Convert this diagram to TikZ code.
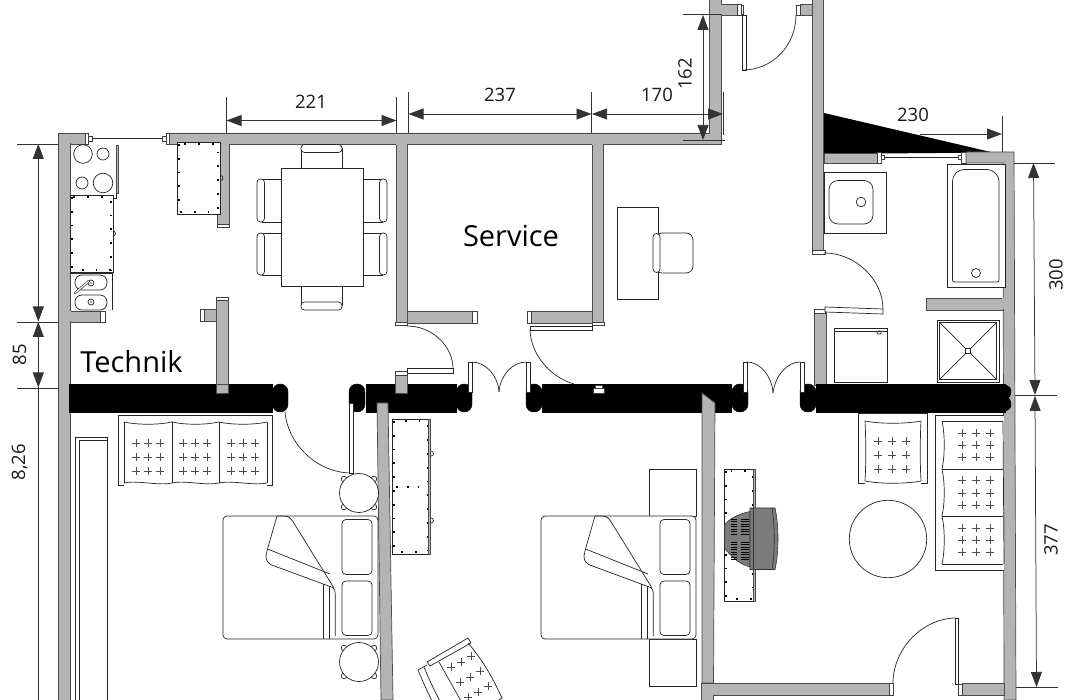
\documentclass[tikz,border=0pt]{standalone}
\usepackage{fontspec}
\setmainfont{Open Sans}
\usetikzlibrary{arrows.meta}
\definecolor{wallgray}{HTML}{B4B4B4}
\definecolor{walledge}{HTML}{4A4A4A}
\definecolor{tvgray}{HTML}{7C7C7C}
\tikzset{
  wall/.style={fill=wallgray,draw=walledge,line width=.7pt},
  solidb/.style={fill=black,draw=black,line width=.5pt},
  jamb/.style={fill=black,draw=black,rounded corners=7.6pt},
  furn/.style={draw=black!85,line width=.7pt,fill=white},
  hair/.style={draw=black!85,line width=.7pt},
  leaf/.style={draw=black!85,line width=.7pt,fill=white},
  jcap/.style={draw=black!75,line width=.6pt,fill=white},
  dimline/.style={draw=black!80,line width=.75pt},
  dimarrow/.style={draw=black!80,line width=.75pt,{Triangle[length=15pt,width=11pt]}-{Triangle[length=15pt,width=11pt]}},
  dimend/.style={draw=black!80,line width=.75pt,-{Triangle[length=15pt,width=11pt]}},
  dimtext/.style={font=\fontsize{18.5}{20}\selectfont,inner sep=0pt,text=black!90},
  roomtext/.style={font=\fontsize{29}{32}\selectfont,inner sep=0pt,text=black},
  dotrim/.style={draw=black,line width=1.5pt,dash pattern=on 1.8pt off 12pt},
  stud/.style={draw=black!70,line width=.75pt}
}
\newcommand{\dotbox}[4]{%
  \draw[furn] (#1,#2) rectangle (#3,#4);
  \draw[dotrim] (#1+2,#2+2) rectangle (#3-2,#4-2);}
\newcommand{\studat}[2]{%
  \draw[stud] (#1-4,#2) -- (#1+4,#2) (#1,#2-4) -- (#1,#2+4);}
\newcommand{\nitetable}[2]{%
  \foreach \ex/\ey in {-15/-14,15/-14,-15/14,15/14}
    {\draw[hair] (#1+\ex,#2+\ey) circle[radius=2.8];}
  \draw[furn] (#1,#2) circle[radius=19.5];}
\newcommand{\bedat}[1]{%
  \begin{scope}[xshift=#1pt]
  \draw[furn,rounded corners=4pt] (223,516) rectangle (378,639);
  \draw[hair,rounded corners=4pt] (342,519.5) rectangle (372,574.5);
  \draw[hair,rounded corners=4pt] (342,581) rectangle (372,635.5);
  \draw[hair,rounded corners=2pt] (277,516) -- (267.5,549) -- (265.5,558) -- (269,564) -- (334,588) -- (335.3,592) -- (335.3,636);
  \draw[hair,rounded corners=3pt] (277,516) -- (287,516) -- (291,518.5) -- (334,588);
  \draw[hair] (267.5,549) -- (330,574);
  \draw[hair] (323,584) -- (323,639) (329,586) -- (329,639);
  \end{scope}}
\begin{document}
\begin{tikzpicture}[x=1pt,y=-1pt]
\useasboundingbox (0,0) rectangle (1080,700);
\clip (0,0) rectangle (1080,700);
\fill[white] (0,0) rectangle (1080,700);

% black triangle
\fill[black] (824,113) -- (993,152.5) -- (824,154) -- cycle;

% ---- long walls
\draw[wall] (58,133) -- (70,133) -- (70,700) -- (58,700) -- cycle;
\draw[wall] (70,133) rectangle (85,144);
\fill[wallgray] (68,133.6) rectangle (72,143.4);
\draw[jcap] (85,133.5) rectangle (88,144);
\draw[jcap] (88,136) rectangle (92,141);
\draw[hair] (92,138.5) -- (162,138.5);
\draw[jcap] (162,136) rectangle (166,141);
\draw[jcap] (166,133.5) rectangle (169,144);
\draw[wall] (169,133) -- (709,133) -- (709,-2) -- (721,-2) -- (721,144) -- (169,144) -- cycle;
\draw[wall] (721,4.5) rectangle (737,15);
\fill[wallgray] (720,5) rectangle (722,14.5);
\draw[jcap] (737,4.5) rectangle (741,15);
\draw[jcap] (741,5) rectangle (743,14);
\draw[wall] (800,4.5) rectangle (812,15);
\fill[wallgray] (811,5) rectangle (813,14.5);
\draw[jcap] (796,5) rectangle (800,15);

\draw[wall] (812,-2) rectangle (823.5,250);
\draw[jcap] (812,250) rectangle (825,254);
\draw[wall] (814.5,311) rectangle (826,385);
\draw[jcap] (814,309) rectangle (825,313);
% kitchen partition
\draw[wall] (217,144) rectangle (229,224);
\draw[jcap] (217,224) rectangle (229,227);
\draw[wall] (216,300) rectangle (228,393);
\draw[jcap] (216,297) rectangle (228,300);
\draw[wall] (204,309) rectangle (216,321);
\draw[jcap] (200,309) rectangle (204,321);
\draw[wall] (70,311) rectangle (100,322);
\fill[wallgray] (69,311.5) rectangle (71,321.5);
\draw[jcap] (100,311) rectangle (105,322);
% service
\draw[wall] (396,144) rectangle (407,322);
\draw[jcap] (395.5,322) rectangle (407.5,325.5);
\draw[wall] (592,144) rectangle (603,322);
\draw[jcap] (592,322) rectangle (604,325.5);
\fill[wallgray] (396.4,143) rectangle (406.6,145);
\fill[wallgray] (592.4,143) rectangle (602.6,145);
\fill[wallgray] (217.4,143) rectangle (228.6,145);
\draw[wall] (407,311) rectangle (472,323);
\draw[jcap] (472,311) rectangle (477,323);
\draw[wall] (531,311) rectangle (592,323);
\draw[jcap] (527,311) rectangle (531,323);
% bath walls
\draw[wall] (824,153) rectangle (877,163);
\draw[jcap] (877,152) rectangle (881,163);
\draw[jcap] (881,155) rectangle (884,159);
\draw[hair] (884,157) -- (958,157);
\draw[jcap] (958,155) rectangle (961,159);
\draw[jcap] (961,152) rectangle (966,163);
\draw[wall] (966,152) -- (1014,152) -- (1016,700) -- (1004,700) -- (1003,163) -- (966,163) -- cycle;
\draw[wall] (926,298) rectangle (1003,310);
\fill[wallgray] (1002,298.5) rectangle (1004,309.5);

% ---- black band
\draw[solidb] (69.5,384) rectangle (272,412);
\draw[jamb] (272.5,384) rectangle (288,412);
\draw[jamb] (349,384) rectangle (365,412);
\draw[solidb] (366,384) rectangle (456,412);
\draw[jamb] (456.5,384) rectangle (472,412);
\draw[jamb] (526,384) rectangle (542,412);
\draw[solidb] (542,384) rectangle (731,412);
\draw[jamb] (732,384) rectangle (748,412);
\draw[jamb] (800,384) rectangle (816,412);
\draw[solidb] (816,384) rectangle (1005,412);
\fill[black] (1003,384) .. controls (1014,386) and (1012,394) .. (1009,398) .. controls (1012,402) and (1014,410) .. (1003,412) -- cycle;
% partitions over the band
\draw[wall] (216,384) rectangle (228,393);
\draw[wall] (395,375) rectangle (407,393);
\draw[jcap] (395,371.5) rectangle (407,375);
\draw[jcap] (593,388) rectangle (604,393);
\draw[jcap] (595,385) rectangle (602,388);
\draw[wall] (377,403) -- (388,403) -- (393,700) -- (381,700) -- cycle;
\draw[wall] (702,393) -- (715,403) -- (713.5,683) -- (702,683) -- cycle;
\draw[wall] (701,683) -- (889,683) -- (889,695) -- (713,695) -- (713,700) -- (701,700) -- cycle;
\draw[jcap] (889,683.5) rectangle (893,695);
\draw[wall] (962,683) -- (1004,683) -- (1004,695) -- (962,695) -- cycle;
\draw[jcap] (958,684) rectangle (962,695);

% ---- dimension lines
\coordinate (t221a) at (226,97); \coordinate (t221b) at (226,133);
\coordinate (t221c) at (396.5,97); \coordinate (t221d) at (396.5,133);
\coordinate (t237a) at (408,92); \coordinate (t237b) at (408,133);
\coordinate (t237c) at (591.5,92); \coordinate (t237d) at (591.5,133);
\coordinate (t170a) at (723,92); \coordinate (t170b) at (723,135);
\draw[dimline] (t221a)--(t221b) (t221c)--(t221d) (t237a)--(t237b) (t237c)--(t237d) (t170a)--(t170b);
\draw[dimarrow] (226.5,120.5) -- (396.5,120.5);
\draw[dimarrow] (408.5,114) -- (591.5,114);
\draw[dimarrow] (592,114) -- (723,114);
\draw[dimarrow] (703,15) -- (703,140);
\draw[dimline] (683,14.5) -- (721,14.5) (683,140) -- (725,140);
\draw[dimend] (920,134) -- (1002,134);
\draw[dimline] (1002,116) -- (1002,152);
\draw[dimarrow] (1033.5,163) -- (1035,395);
\draw[dimline] (1014,163) -- (1055,163) (1015,395) -- (1057,395);
\draw[dimarrow] (1035,396) -- (1036.5,687);
\draw[dimline] (1016,687) -- (1058,687);
\draw[dimarrow] (38.3,144) -- (38.3,321.5);
\draw[dimarrow] (38.3,322) -- (38.3,387.5);
\draw[dimline] (38.3,387.5) -- (38.3,700);
\draw[dimline] (17,144.3) -- (58,144.3) (17,322) -- (58,322) (17,388) -- (58,388);

% ---- doors
\draw[leaf] (407,368.5) rectangle (453,373);
\draw[hair] (407,326) .. controls (433,326) and (453,347) .. (453,368.5);
\draw[leaf] (530,326.5) rectangle (592,330);
\draw[hair] (530,330) .. controls (531,356) and (552,378) .. (574,384);
\draw[leaf] (468,362) rectangle (472,392);
\draw[leaf] (526,362) rectangle (530,392);
\draw[hair] (472,362) .. controls (486,362) and (498,376) .. (499,392);
\draw[hair] (526,362) .. controls (512,362) and (500,376) .. (499,392);
\draw[leaf] (743,362) rectangle (747,392);
\draw[leaf] (800,362) rectangle (804,392);
\draw[hair] (747,362) .. controls (760,362) and (772,376) .. (773,393);
\draw[hair] (800,362) .. controls (787,362) and (775,376) .. (773,393);
\draw[leaf] (742,15) rectangle (746,70);
\draw[hair] (743,70) .. controls (772,70) and (796,46) .. (796,15);
\draw[hair] (824,253) .. controls (856,253) and (883,280) .. (883,309);
\draw[leaf] (825,307) -- (883,309) -- (883,314) -- (825,312) -- cycle;
\draw[leaf] (349,403) rectangle (353.5,473);
\draw[hair] (285,412) .. controls (288,444) and (316,472) .. (350,473);
\draw[leaf] (955,618) rectangle (958.5,684);
\draw[hair] (955,618) .. controls (921,619) and (893,650) .. (893,683);

% ---- kitchen
\draw[hair] (83,154) circle[radius=9.3];
\draw[hair] (103,154) circle[radius=6];
\draw[hair] (82,183) circle[radius=6];
\draw[hair] (103,183) circle[radius=9.8];
\draw[fill=wallgray,draw=black!70,line width=.5pt] (116,145) rectangle (118.5,193);
\draw[hair] (116,193) -- (116,198) -- (113,198);
\dotbox{70}{195}{113}{272}
\draw[hair] (113,231) arc[start angle=-90,end angle=90,radius=2.5];
\draw[hair] (70,273) -- (112,273) (112,273) -- (112,310);
\draw[hair,rounded corners=7pt] (75,275) rectangle (107,290);
\draw[hair,rounded corners=7pt] (75,295) rectangle (107,310);
\draw[hair] (91,283) circle[radius=3];
\draw[hair] (91,302) circle[radius=3];
\fill[black!35] (91,283) circle[radius=1.3] (91,302) circle[radius=1.3];
\draw[line width=2.4pt,black!80,line cap=round] (75,293) -- (89,281);
\draw[line width=1.1pt,white,line cap=round] (75,293) -- (89,281);
\dotbox{177}{142}{220}{214}
\draw[hair] (220.5,175.5) arc[start angle=-90,end angle=90,radius=2.5];

% ---- dining
\foreach \a/\b in {179/222,233/275}{
  \draw[furn] (281,\a) -- (262,\a) -- (262,\b) -- (281,\b);
  \draw[furn,rounded corners=3.5pt] (257,\a) rectangle (264.5,\b);
  \draw[furn] (363,\a) -- (382,\a) -- (382,\b) -- (363,\b);
  \draw[furn,rounded corners=3.5pt] (379.5,\a) rectangle (387,\b);
}
\draw[furn] (301,168) -- (301,148) -- (342,148) -- (342,168);
\draw[furn,rounded corners=3.5pt] (301,144.5) rectangle (342,152.5);
\draw[furn] (301,286) -- (301,305) -- (342,305) -- (342,286);
\draw[furn,rounded corners=3.5pt] (301,302) rectangle (342,310);
\draw[furn] (281,168) rectangle (363,286);

% ---- desk
\draw[furn] (617,207) rectangle (658,299);
\draw[furn,rounded corners=7pt] (655,233) -- (693,233) -- (693,273) -- (655,273) -- cycle;
\draw[furn,rounded corners=3.5pt] (653,233.5) rectangle (660,272.5);

% ---- bathroom
\draw[furn] (824,172) rectangle (886,233);
\draw[hair,rounded corners=9pt] (829,180.5) rectangle (873,224);
\draw[hair] (861,202) circle[radius=4.8];
\draw[furn] (947,164) rectangle (1005,287);
\draw[hair,rounded corners=2pt] (952.5,282) -- (952.5,183) .. controls (952.5,175) and (958,169.5) .. (966,169.5) -- (985,169.5) .. controls (993,169.5) and (999,175) .. (999,183) -- (999,282) -- cycle;
\draw[hair] (976,273) circle[radius=4.5];
\draw[furn] (937,320) rectangle (999,382);
\draw[hair] (939.5,322.5) rectangle (996.5,379.5);
\draw[hair] (939.5,322.5) -- (996.5,379.5) (996.5,322.5) -- (939.5,379.5);
\draw[furn] (965.5,348.5) rectangle (970.5,353.5);
\draw[furn] (834,328) rectangle (887,382);
\draw[hair] (834,331) -- (887,331);
\draw[hair,rounded corners=1pt] (877,331) rectangle (881,334);

% ---- bedroom 1
\draw[furn] (75,437) rectangle (107,710);
\draw[hair] (79,710) -- (79,440) -- (107,440);
\draw[furn] (124,485) -- (118,485) -- (118,415) -- (272,415) -- (272,485) -- (267,485);
\foreach \p/\q in {124/172,172/219,219/267}{
  \draw[hair] (\p,422) .. controls (\p+14,425) and (\q-14,425) .. (\q,422);
  \draw[hair] (\p,483) .. controls (\p+14,480) and (\q-14,486) .. (\q,483);
  \draw[hair] (\p,422) -- (\p,483) (\q,422) -- (\q,483);
}
\foreach \sx in {136,148,160,183,195,207,231,243,255}{
  \foreach \sy in {443,457,471}{
    \studat{\sx}{\sy}
  }
}
\nitetable{359}{493}
\nitetable{359}{662}
\bedat{0}
\dotbox{392}{419}{430}{554}
\draw[fill=wallgray,draw=black!70,line width=.4pt] (428,419) rectangle (430,554);
\draw[hair] (431,451) arc[start angle=-90,end angle=90,radius=2.5];
\draw[hair] (431,518) arc[start angle=-90,end angle=90,radius=2.5];
\draw[dotrim,dash pattern=on 1.8pt off 9pt] (396,487) -- (425,487);
% armchair
\draw[furn] (427,662) -- (468,638) -- (471,643) -- (430,666) -- cycle;
\draw[hair] (424,667) .. controls (430,682) and (437,696) .. (445,710);
\draw[hair] (418,670) -- (427,665);
\draw[hair] (418,670) .. controls (424,684) and (429,696) .. (437,710);
\draw[hair] (439,662) -- (465,708);
\draw[hair] (468,643) .. controls (481,658) and (492,676) .. (500,694);
\draw[hair] (502,698) -- (487,708) (500,694) -- (502,698);
\foreach \sx/\sy in {451/667,461/662,471/656,460/682,470/677,480/671,468/697,478/692,488/686}{
  \studat{\sx}{\sy}
}

% ---- bedroom 2
\draw[furn] (649,469) rectangle (696,516);
\draw[furn] (649,639) rectangle (696,686);
\bedat{318}
\dotbox{724}{469}{755}{601}
\draw[fill=wallgray,draw=black!70,line width=.4pt] (753,469) rectangle (755,601);
% television
\draw[draw=black!80,line width=.6pt,fill=tvgray] (750,511.5) .. controls (738,514) and (729,519) .. (724.5,525) -- (724.5,548) .. controls (729,554) and (738,564) .. (750,567) -- cycle;
\foreach \hy in {519,521.5,524,526.5,529,531.5,534,542,544.5,547,549.5,552,554.5,557,559.5}{
  \draw[black,line width=.9pt] (731,\hy) -- (737,\hy) (741,\hy) -- (749,\hy);
}
\draw[draw=black!80,line width=.6pt,fill=tvgray] (750,508) -- (775,508) .. controls (779,525) and (779,552) .. (775,569.5) -- (750,569.5) -- cycle;
\draw[black!80,line width=.6pt] (772,508) .. controls (775,525) and (775,552) .. (772,569.5);
\draw[black!80,line width=.6pt] (753,508) -- (753,569.5);

% ---- living corner
\draw[furn] (865,483) -- (858,483) -- (858,413.5) -- (927,413.5) -- (927,483) -- (921,483);
\draw[hair] (865,421) .. controls (880,424) and (906,424) .. (921,421);
\draw[hair] (865,421) .. controls (866,440) and (866,465) .. (865,481);
\draw[hair] (921,421) .. controls (920,440) and (920,465) .. (921,481);
\draw[hair] (865,481) .. controls (880,484) and (906,484) .. (921,481);
\foreach \sx in {878,892,906}{
  \foreach \sy in {441,455,469}{
    \studat{\sx}{\sy}
  }
}
\draw[furn] (888,539) circle[radius=38.7];
\draw[furn] (1004,415) -- (935,415) -- (935,570) -- (1004,570);
\foreach \p/\q in {421/469,469/516,516/564}{
  \draw[hair] (942,\p) .. controls (945,\p+14) and (945,\q-14) .. (942,\q);
  \draw[hair] (942,\q) -- (1003,\q) (942,\p) -- (1003,\p);
}
\draw[hair] (1003,421) -- (1004,564);
\foreach \sx in {962,976,990}{
  \foreach \sy in {433,445,457,480,493,505,528,540,552}{
    \studat{\sx}{\sy}
  }
}

% ---- labels
\node[dimtext] (l221) at (311,102) {221};
\node[dimtext] (l237) at (500,95) {237};
\node[dimtext] (l170) at (657,95) {170};
\node[dimtext,rotate=90] (l162) at (685,74) {162};
\node[dimtext] (l230) at (913,115) {230};
\node[dimtext,rotate=90] (l300) at (1056,275) {300};
\node[dimtext,rotate=90] (l377) at (1051,540) {377};
\node[dimtext,rotate=90] (l85) at (19.5,355) {85};
\node[dimtext,rotate=90] (l826) at (19.5,462) {8,26};
\node[roomtext] (tech) at (131.5,362) {Technik};
\node[roomtext] (serv) at (511,236) {Service};
\end{tikzpicture}
\end{document}
